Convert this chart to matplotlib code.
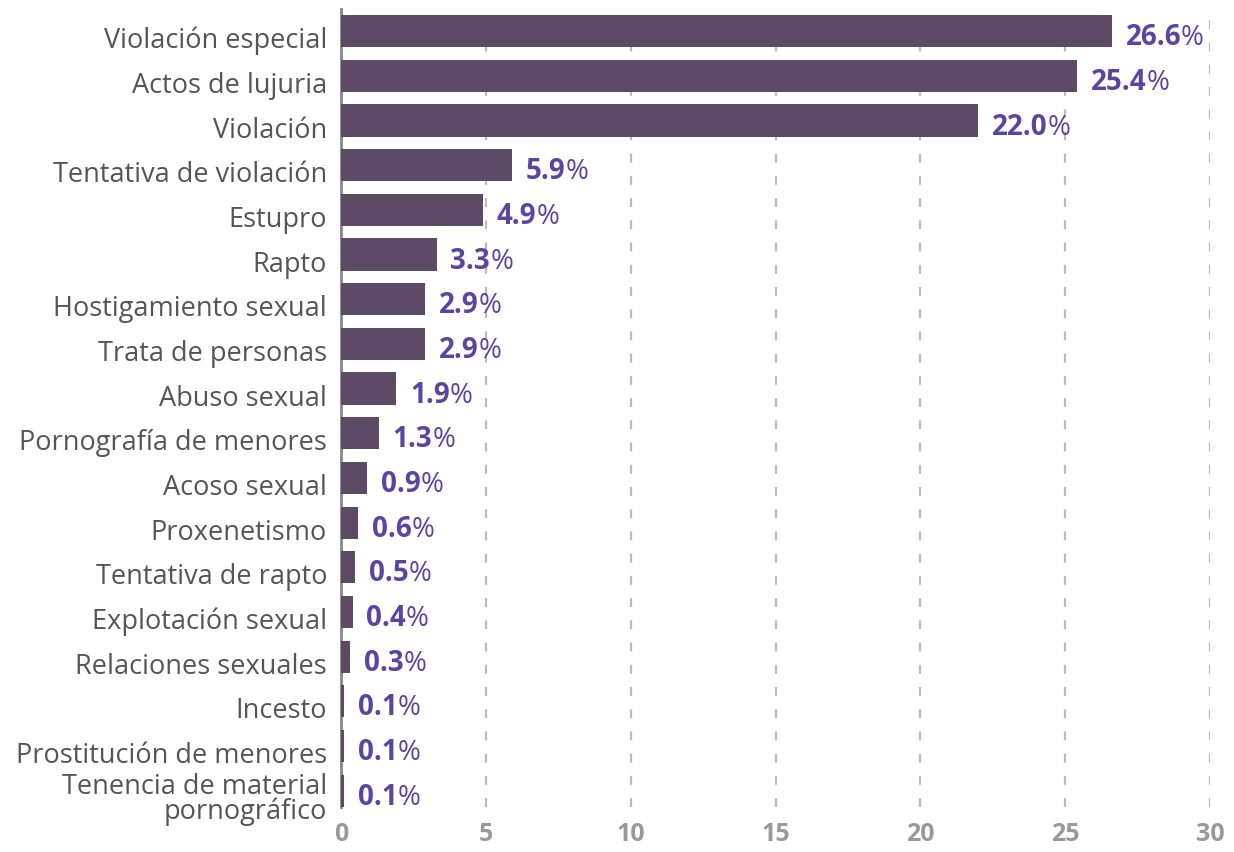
import matplotlib
matplotlib.use("Agg")
import matplotlib.pyplot as plt
from matplotlib.transforms import ScaledTranslation

categorias = [
    "Violación especial", "Actos de lujuria", "Violación", "Tentativa de violación",
    "Estupro", "Rapto", "Hostigamiento sexual", "Trata de personas", "Abuso sexual",
    "Pornografía de menores", "Acoso sexual", "Proxenetismo", "Tentativa de rapto",
    "Explotación sexual", "Relaciones sexuales", "Incesto", "Prostitución de menores",
    "Tenencia de material\npornográfico",
]
valores = [26.6, 25.4, 22.0, 5.9, 4.9, 3.3, 2.9, 2.9, 1.9, 1.3, 0.9, 0.6, 0.5, 0.4, 0.3, 0.1, 0.1, 0.1]
ticks_x = [0, 5, 10, 15, 20, 25, 30]

plt.rcParams['font.family'] = ['Open Sans', 'DejaVu Sans']

fig = plt.figure(figsize=(12.34, 8.53), dpi=100)
ax = fig.add_axes([0.2763, 0.053, 0.7043, 0.935])

y = list(range(len(categorias)))
ax.barh(y, valores, height=0.72, color="#5d4a64", zorder=3)

ax.set_xlim(0, 30)
ax.set_ylim(len(categorias) - 1 + 0.36, -0.49)
ax.set_yticks(y)
ax.set_yticklabels(categorias, fontsize=19.5, color="#555555", linespacing=0.85)
ax.set_xticks(ticks_x)
ax.set_xticklabels([str(t) for t in ticks_x], fontsize=18, color="#999999", fontweight="bold")
ax.tick_params(axis="y", length=0, pad=10)
ax.tick_params(axis="x", length=0, pad=10)

# bajar un poco las etiquetas como en el original
bajar = ScaledTranslation(0, -4 / 72, fig.dpi_scale_trans)
for lab in ax.get_yticklabels():
    lab.set_transform(lab.get_transform() + bajar)

for s in ["top", "right", "bottom"]:
    ax.spines[s].set_visible(False)
ax.spines["left"].set_color("#888888")
ax.spines["left"].set_linewidth(2)

ax.grid(axis="x", color="#bbbbbb", linestyle=(0, (4, 6)), linewidth=1.6, zorder=0)
ax.grid(axis="y", visible=False)

for yi, v in zip(y, valores):
    t = ax.annotate(f"{v:.1f}", xy=(v, yi), xytext=(10, -4), textcoords="offset points",
                    va="center", ha="left", fontsize=20, fontweight="bold", color="#5a45a0")
    ax.annotate("%", xy=(1, 0), xycoords=t, va="bottom", ha="left",
                fontsize=20, color="#5a45a0")

fig.savefig("out.png", dpi=100)
